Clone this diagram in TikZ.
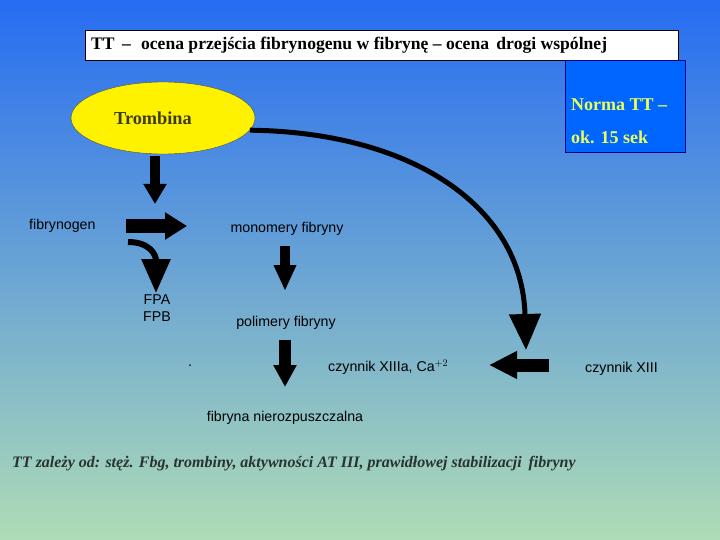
\documentclass[tikz,border=0pt]{standalone}
\usepackage{fontspec}
\setmainfont{Liberation Serif}
\setsansfont{Liberation Sans}
\usetikzlibrary{arrows.meta, shapes.geometric, positioning}
\definecolor{topblue}{RGB}{38,108,242}
\definecolor{midblue}{RGB}{118,166,222}
\definecolor{botgreen}{RGB}{174,220,182}
\definecolor{normblue}{RGB}{0,102,255}
\definecolor{normtext}{RGB}{235,255,90}
\definecolor{trombtext}{RGB}{60,60,20}
\definecolor{darktext}{RGB}{40,52,44}

\tikzset{
  lbl/.style={font=\sffamily\fontsize{14.2}{16}\selectfont, inner sep=0pt},
  blockarrow/.style={line width=11pt, -{Triangle[length=22pt,width=26pt]}},
}

\begin{document}
\begin{tikzpicture}[x=1pt, y=-1pt]
        % background
        \shade[top color=topblue, middle color=midblue, bottom color=botgreen] (0,0) rectangle (720,540);
        \useasboundingbox (0,0) rectangle (720,540);

        % title and norm box
        \draw[fill=white, line width=0.6pt] (85,30) rectangle (678,60);
        \node[anchor=west, inner sep=0pt, font=\bfseries\fontsize{17.6}{19}\selectfont] (title) at (91,45)
            {TT \,--\,\, ocena przejścia fibrynogenu w fibrynę -- ocena \,drogi wspólnej};
        \draw[fill=normblue, draw=blue!50!black, line width=0.6pt] (565,60) rectangle (685,152);
        \node[anchor=west, inner sep=0pt, text=normtext, font=\bfseries\fontsize{18}{20}\selectfont] (norma) at (571,105) {Norma TT --};
        \node[anchor=west, inner sep=0pt, text=normtext, font=\bfseries\fontsize{18}{20}\selectfont] (sek) at (571,137) {ok. 15 sek};

        % trombina
        \node[ellipse, draw=black!70, fill=yellow, minimum width=184pt, minimum height=72pt, inner sep=0pt] (trombina) at (163,118) {};
        \node[text=trombtext, inner sep=0pt, font=\bfseries\fontsize{18.3}{20}\selectfont] (tromblbl) at (153,118) {Trombina};

        % labels
        \node[lbl, anchor=west] (fbg) at (29,226) {fibrynogen};
        \node[lbl] (mono) at (287,229) {monomery fibryny};
        \node[lbl] (fpa) at (157,300) {FPA};
        \node[lbl] (fpb) at (157,317) {FPB};
        \node[lbl] (poli) at (286,323) {polimery fibryny};
        \node[lbl, anchor=west] (xiiia) at (328,367) {czynnik XIIIa, Ca$^{\scriptstyle +2}$};
        \node[lbl, anchor=west] (xiii) at (585,369) {czynnik XIII};
        \node[lbl] (fibryna) at (285,418) {fibryna nierozpuszczalna};
        \node[lbl] (dot) at (190,366) {.};

        \node[anchor=west, inner sep=0pt, text=darktext, font=\bfseries\itshape\fontsize{16}{18}\selectfont] (uwagi) at (12,464)
            {TT zależy od: stęż. Fbg, trombiny, aktywności AT III, prawidłowej stabilizacji \,fibryny};

        % arrow ends
        \coordinate (a1) at (155,156); \coordinate (b1) at (155,204);
        \coordinate (a2) at (126,226); \coordinate (b2) at (187,226);
        \coordinate (a3) at (128,242); \coordinate (b3) at (156,293);
        \coordinate (a4) at (285,246); \coordinate (b4) at (285,291);
        \coordinate (a5) at (285,340); \coordinate (b5) at (285,387);
        \coordinate (b6) at (526,350);
        \coordinate (a7) at (549,365); \coordinate (b7) at (489,365);

        \draw[blockarrow, line width=10pt, -{Triangle[length=20pt,width=22pt]}] (a1) -- (b1);
        \draw[blockarrow, line width=13pt] (a2) -- (b2);
        \draw[line width=6pt, -{Triangle[length=34pt,width=28pt]}] (a3) .. controls (150,242) and (156,255) .. (b3);
        \draw[blockarrow, line width=10pt, -{Triangle[length=26pt,width=21pt]}] (a4) -- (b4);
        \draw[blockarrow, line width=12pt, -{Triangle[length=22pt,width=22pt]}] (a5) -- (b5);
        \draw[line width=5pt, -{Triangle[length=36pt,width=31pt]}] (trombina.-8) .. controls (410,132) and (522,205) .. (b6);
        \draw[blockarrow, line width=13pt, -{Triangle[length=28pt,width=26pt]}] (a7) -- (b7);
    \end{tikzpicture}
\end{document}
